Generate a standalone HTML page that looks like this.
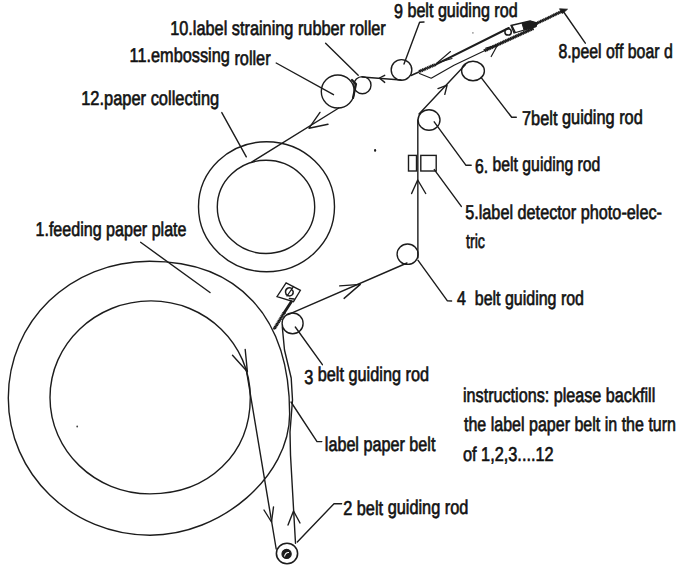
<!DOCTYPE html>
<html><head><meta charset="utf-8"><style>html,body{margin:0;padding:0;background:#fff;width:680px;height:570px;overflow:hidden}svg{display:block}</style></head>
<body><svg width="680" height="570" viewBox="0 0 680 570">
<rect width="680" height="570" fill="#fff"/>
<path d="M289.65 414.04 C289.65 476.07 221.50 535.20 150.00 535.20 C71.78 535.20 8.30 473.73 8.30 398.00 C8.30 321.39 70.43 261.20 149.50 261.20 C238.64 261.20 289.65 316.83 289.65 414.04 Z" stroke="#1c1c1c" stroke-width="1.4" fill="none"/>
<path d="M250.30 397.40 C250.30 453.85 208.68 493.90 150.00 493.90 C94.80 493.90 50.00 450.67 50.00 397.40 C50.00 344.13 95.25 300.90 151.00 300.90 C205.81 300.90 250.30 344.13 250.30 397.40 Z" stroke="#1c1c1c" stroke-width="1.4" fill="none"/>
<ellipse cx="266.5" cy="206.8" rx="68" ry="65" stroke="#1c1c1c" stroke-width="1.4" fill="none"/>
<ellipse cx="266" cy="206.9" rx="48.7" ry="46.6" stroke="#1c1c1c" stroke-width="1.4" fill="none"/>
<ellipse cx="337.8" cy="91.5" rx="16.5" ry="16.5" stroke="#1c1c1c" stroke-width="1.4" fill="none"/>
<ellipse cx="362.4" cy="85.2" rx="8.6" ry="8.6" stroke="#1c1c1c" stroke-width="1.4" fill="none"/>
<ellipse cx="401.5" cy="69.9" rx="10.3" ry="10.3" stroke="#1c1c1c" stroke-width="1.4" fill="none"/>
<ellipse cx="473" cy="71" rx="11.4" ry="9.7" stroke="#1c1c1c" stroke-width="1.4" fill="none"/>
<ellipse cx="429" cy="120" rx="11" ry="10.3" stroke="#1c1c1c" stroke-width="1.4" fill="none"/>
<ellipse cx="407.6" cy="254.2" rx="10.5" ry="10.2" stroke="#1c1c1c" stroke-width="1.4" fill="none"/>
<ellipse cx="292.6" cy="323.4" rx="10.5" ry="10.4" stroke="#1c1c1c" stroke-width="1.4" fill="none"/>
<ellipse cx="287" cy="553.5" rx="10.6" ry="10.2" stroke="#1c1c1c" stroke-width="1.6" fill="none"/>
<ellipse cx="286.6" cy="553.9" rx="4.6" ry="4.6" stroke="#1c1c1c" stroke-width="1.2" fill="#1c1c1c"/>
<path d="M284.5 556.5 Q285.5 552 289 552.5" stroke="#fff" stroke-width="1.1" fill="none"/>
<path d="M246.0 368.0 L276.2 549.0" stroke="#1c1c1c" stroke-width="1.4" fill="none" stroke-linejoin="round" stroke-linecap="round" />
<path d="M232.5 355.2 L247.4 371.8 L245.2 349.5" stroke="#1c1c1c" stroke-width="1.4" fill="none" stroke-linejoin="round" stroke-linecap="round" />
<path d="M264.0 510.0 L271.5 522.0 L273.5 507.0" stroke="#1c1c1c" stroke-width="1.4" fill="none" stroke-linejoin="round" stroke-linecap="round" />
<path d="M295.5 543.3 L290.5 455.0 L290.0 432.0 L292.5 400.0 L291.2 378.0 L284.5 350.0 L282.3 327.0" stroke="#1c1c1c" stroke-width="1.4" fill="none" stroke-linejoin="round" stroke-linecap="round" />
<path d="M288.0 525.0 L293.5 511.0 L300.0 523.0" stroke="#1c1c1c" stroke-width="1.4" fill="none" stroke-linejoin="round" stroke-linecap="round" />
<path d="M288.0 314.6 L407.0 263.0" stroke="#1c1c1c" stroke-width="1.4" fill="none" stroke-linejoin="round" stroke-linecap="round" />
<path d="M339.7 285.9 L360.3 284.4 L344.1 298.4" stroke="#1c1c1c" stroke-width="1.4" fill="none" stroke-linejoin="round" stroke-linecap="round" />
<path d="M417.9 258.0 L417.8 120.0" stroke="#1c1c1c" stroke-width="1.4" fill="none" stroke-linejoin="round" stroke-linecap="round" />
<path d="M411.6 193.5 L417.7 180.0 L425.7 193.5" stroke="#1c1c1c" stroke-width="1.4" fill="none" stroke-linejoin="round" stroke-linecap="round" />
<rect x="408.5" y="155.4" width="8" height="15.6" stroke="#1c1c1c" stroke-width="1.4" fill="none"/>
<rect x="420.8" y="155.4" width="15.4" height="15.6" stroke="#1c1c1c" stroke-width="1.4" fill="none"/>
<path d="M419.0 114.0 L465.5 64.5" stroke="#1c1c1c" stroke-width="1.4" fill="none" stroke-linejoin="round" stroke-linecap="round" />
<path d="M438.0 88.6 L447.1 85.2 L444.8 94.3" stroke="#1c1c1c" stroke-width="1.4" fill="none" stroke-linejoin="round" stroke-linecap="round" />
<path d="M411.0 75.5 L420.0 71.5" stroke="#1c1c1c" stroke-width="1.4" fill="none" stroke-linejoin="round" stroke-linecap="round" />
<path d="M420.0 71.2 L436.5 64.1" stroke="#1c1c1c" stroke-width="1.4" fill="none" stroke-linejoin="round" stroke-linecap="round" />
<path d="M418.82 69.97 L421.18 72.43 M420.47 69.26 L422.84 71.72 M422.12 68.54 L424.49 71.01 M423.78 67.83 L426.14 70.30 M425.43 67.12 L427.80 69.59 M427.08 66.41 L429.45 68.88 M428.74 65.70 L431.10 68.16 M430.39 64.99 L432.76 67.45 M432.04 64.28 L434.41 66.74 M433.70 63.56 L436.06 66.03 " stroke="#1c1c1c" stroke-width="1.2" fill="none"/>
<path d="M436.5 64.1 L508.8 28.0" stroke="#1c1c1c" stroke-width="2.1" fill="none" stroke-linejoin="round" stroke-linecap="round" />
<path d="M437.0 63.0 L450.5 51.5" stroke="#1c1c1c" stroke-width="1.1" fill="none" stroke-linejoin="round" stroke-linecap="round" />
<path d="M437.0 63.0 L452.0 58.5" stroke="#1c1c1c" stroke-width="1.1" fill="none" stroke-linejoin="round" stroke-linecap="round" />
<path d="M511 25.5 L530 21 L537 23 L536 26.5 L514 33 Z" stroke="#1c1c1c" stroke-width="1.3" fill="none"/>
<path d="M522 23.2 L530.5 21.3 L537 23.2 L536 26.6 L524 30 Z" fill="#1c1c1c" stroke="#1c1c1c" stroke-width="1"/>
<ellipse cx="508.1" cy="31.9" rx="3.2" ry="3.2" stroke="#1c1c1c" stroke-width="1.5" fill="none"/>
<path d="M512.0 26.0 L515.0 32.0" stroke="#1c1c1c" stroke-width="1.6" fill="none" stroke-linejoin="round" stroke-linecap="round" />
<path d="M536.5 23.5 L561.5 11.5" stroke="#1c1c1c" stroke-width="1.3" fill="none" stroke-linejoin="round" stroke-linecap="round" />
<path d="M535.31 22.41 L537.69 24.59 M536.93 21.63 L539.31 23.81 M538.56 20.85 L540.94 23.03 M540.18 20.07 L542.56 22.26 M541.80 19.29 L544.18 21.48 M543.42 18.51 L545.80 20.70 M545.05 17.73 L547.43 19.92 M546.67 16.95 L549.05 19.14 M548.29 16.18 L550.67 18.36 M549.91 15.40 L552.29 17.58 M551.54 14.62 L553.92 16.80 M553.16 13.84 L555.54 16.02 M554.78 13.06 L557.16 15.25 M556.41 12.28 L558.79 14.47 M558.03 11.50 L560.41 13.69 M559.65 10.72 L562.03 12.91 " stroke="#1c1c1c" stroke-width="1.4" fill="none"/>
<path d="M559.5 8.8 L567.5 9.2 L562.5 13.5 Z" fill="#1c1c1c" stroke="#1c1c1c" stroke-width="0.8"/>
<path d="M419.4 73.5 L431.2 78.2 L454.0 65.2 L485.0 50.5" stroke="#1c1c1c" stroke-width="1.2" fill="none" stroke-linejoin="round" stroke-linecap="round" />
<path d="M485.0 50.5 L533.0 28.5" stroke="#1c1c1c" stroke-width="1.4" fill="none" stroke-linejoin="round" stroke-linecap="round" />
<path d="M483.79 49.30 L486.21 51.70 M485.42 48.55 L487.85 50.95 M487.06 47.80 L489.48 50.20 M488.70 47.05 L491.12 49.45 M490.33 46.30 L492.76 48.70 M491.97 45.55 L494.39 47.95 M493.61 44.80 L496.03 47.20 M495.24 44.05 L497.67 46.45 M496.88 43.30 L499.30 45.70 M498.51 42.55 L500.94 44.95 M500.15 41.80 L502.58 44.20 M501.79 41.05 L504.21 43.45 M503.42 40.30 L505.85 42.70 M505.06 39.55 L507.48 41.95 M506.70 38.80 L509.12 41.20 M508.33 38.05 L510.76 40.45 M509.97 37.30 L512.39 39.70 M511.61 36.55 L514.03 38.95 M513.24 35.80 L515.67 38.20 M514.88 35.05 L517.30 37.45 M516.51 34.30 L518.94 36.70 M518.15 33.55 L520.57 35.95 M519.79 32.80 L522.21 35.20 M521.42 32.05 L523.85 34.46 M523.06 31.30 L525.48 33.71 M524.70 30.55 L527.12 32.96 M526.33 29.80 L528.76 32.21 M527.97 29.05 L530.39 31.46 M529.60 28.30 L532.03 30.71 M531.24 27.55 L533.67 29.96 " stroke="#1c1c1c" stroke-width="1.4" fill="none"/>
<path d="M485.9 48.1 L497.4 45.2 L491.2 56.5" stroke="#1c1c1c" stroke-width="1.2" fill="none" stroke-linejoin="round" stroke-linecap="round" />
<path d="M362.0 77.0 L401.0 80.0" stroke="#1c1c1c" stroke-width="1.4" fill="none" stroke-linejoin="round" stroke-linecap="round" />
<path d="M384.7 75.3 L379.4 78.0 L384.7 82.4" stroke="#1c1c1c" stroke-width="1.4" fill="none" stroke-linejoin="round" stroke-linecap="round" />
<path d="M352.0 80.0 L356.0 84.0 L353.0 98.0" stroke="#1c1c1c" stroke-width="2.2" fill="none" stroke-linejoin="round" stroke-linecap="round" />
<path d="M338.8 108.0 L252.0 161.8" stroke="#1c1c1c" stroke-width="1.4" fill="none" stroke-linejoin="round" stroke-linecap="round" />
<path d="M320.0 112.4 L309.0 128.2 L328.0 124.3" stroke="#1c1c1c" stroke-width="1.4" fill="none" stroke-linejoin="round" stroke-linecap="round" />
<path d="M140.6 242.3 L210.0 292.5" stroke="#1c1c1c" stroke-width="1.4" fill="none" stroke-linejoin="round" stroke-linecap="round" />
<path d="M221.8 112.6 L246.3 156.8" stroke="#1c1c1c" stroke-width="1.4" fill="none" stroke-linejoin="round" stroke-linecap="round" />
<path d="M276.2 63.0 L333.5 94.7" stroke="#1c1c1c" stroke-width="1.4" fill="none" stroke-linejoin="round" stroke-linecap="round" />
<path d="M325.6 43.2 L358.2 75.3" stroke="#1c1c1c" stroke-width="1.4" fill="none" stroke-linejoin="round" stroke-linecap="round" />
<path d="M404.0 64.0 L419.6 22.2 L424.0 22.0" stroke="#1c1c1c" stroke-width="1.4" fill="none" stroke-linejoin="round" stroke-linecap="round" />
<path d="M563.0 11.0 L585.3 43.2" stroke="#1c1c1c" stroke-width="1.4" fill="none" stroke-linejoin="round" stroke-linecap="round" />
<path d="M481.0 77.4 L511.7 117.3 L516.3 117.3" stroke="#1c1c1c" stroke-width="1.4" fill="none" stroke-linejoin="round" stroke-linecap="round" />
<path d="M434.2 121.8 L466.0 165.3 L471.2 165.3" stroke="#1c1c1c" stroke-width="1.4" fill="none" stroke-linejoin="round" stroke-linecap="round" />
<path d="M434.3 169.6 L461.3 206.4" stroke="#1c1c1c" stroke-width="1.4" fill="none" stroke-linejoin="round" stroke-linecap="round" />
<path d="M417.9 260.2 L447.4 300.9 L451.6 301.0" stroke="#1c1c1c" stroke-width="1.4" fill="none" stroke-linejoin="round" stroke-linecap="round" />
<path d="M295.3 327.0 L322.4 364.7" stroke="#1c1c1c" stroke-width="1.4" fill="none" stroke-linejoin="round" stroke-linecap="round" />
<path d="M291.0 402.0 L317.0 441.6 L321.8 441.6" stroke="#1c1c1c" stroke-width="1.4" fill="none" stroke-linejoin="round" stroke-linecap="round" />
<path d="M297.3 542.0 L334.0 503.7 L341.6 503.7" stroke="#1c1c1c" stroke-width="1.4" fill="none" stroke-linejoin="round" stroke-linecap="round" />
<path d="M286.1 282.9 L300.4 290.3 L293.5 301.7 L277 296.6 Z" stroke="#1c1c1c" stroke-width="1.3" fill="none"/>
<path d="M292.5 289 C290 286.5 285.5 288 285.5 292 C285.5 295.5 289.5 297 292 295 C294 293 293.5 290 291 289.5" stroke="#1c1c1c" stroke-width="1.5" fill="none"/>
<path d="M287.0 296.0 L293.5 286.5" stroke="#1c1c1c" stroke-width="1.3" fill="none" stroke-linejoin="round" stroke-linecap="round" />
<path d="M289.5 298.5 L294.0 299.0" stroke="#1c1c1c" stroke-width="1.6" fill="none" stroke-linejoin="round" stroke-linecap="round" />
<path d="M291.3 301.7 L284.0 313.0" stroke="#1c1c1c" stroke-width="2.8" fill="none" stroke-linejoin="round" stroke-linecap="round" />
<path d="M284.0 313.0 L274.1 329.1" stroke="#1c1c1c" stroke-width="1.4" fill="none" stroke-linejoin="round" stroke-linecap="round" />
<path d="M285.68 313.33 L282.32 312.67 M284.73 314.86 L281.38 314.21 M283.79 316.39 L280.44 315.74 M282.85 317.93 L279.49 317.27 M281.91 319.46 L278.55 318.81 M280.96 320.99 L277.61 320.34 M280.02 322.53 L276.67 321.87 M279.08 324.06 L275.72 323.41 M278.13 325.59 L274.78 324.94 M277.19 327.13 L273.84 326.47 M276.25 328.66 L272.89 328.01 " stroke="#1c1c1c" stroke-width="1.3" fill="none"/>
<ellipse cx="375.1" cy="150.4" rx="1.1" ry="1.3" fill="#1c1c1c"/>
<circle cx="77.2" cy="426.5" r="0.9" fill="#444"/>
<circle cx="472.9" cy="32.9" r="0.8" fill="#888"/>
<g font-family="Liberation Sans, sans-serif" font-size="20" fill="#111" stroke="#111" stroke-width="0.65" text-rendering="geometricPrecision">
<text x="170.2" y="34.75" textLength="215.61" lengthAdjust="spacingAndGlyphs" xml:space="preserve">10.label straining rubber roller</text>
<text x="394.0" y="16.5" textLength="123.61" lengthAdjust="spacingAndGlyphs" xml:space="preserve"><tspan dy='1.5'>9</tspan><tspan dy='-1.5'> belt guiding rod</tspan></text>
<text x="129.6" y="62.4" textLength="141.02" lengthAdjust="spacingAndGlyphs" xml:space="preserve">11.embossing<tspan dy='2.3'> roller</tspan></text>
<text x="558.4" y="58.0" textLength="114.4" lengthAdjust="spacingAndGlyphs" xml:space="preserve">8.peel off boar d</text>
<text x="81.2" y="104.7" textLength="138.0" lengthAdjust="spacingAndGlyphs" xml:space="preserve">12.paper collecting</text>
<text x="522.0" y="123.7" textLength="120.8" lengthAdjust="spacingAndGlyphs" xml:space="preserve"><tspan dy='1'>7belt</tspan><tspan dy='-1'> guiding rod</tspan></text>
<text x="475.0" y="171.2" textLength="125.39" lengthAdjust="spacingAndGlyphs" xml:space="preserve"><tspan dy='1.4'>6.</tspan><tspan dy='-1.4'> belt guiding rod</tspan></text>
<text x="465.2" y="218.8" textLength="196.8" lengthAdjust="spacingAndGlyphs" xml:space="preserve">5.label detector photo-elec-</text>
<text x="466.0" y="247.6" textLength="19.0" lengthAdjust="spacingAndGlyphs" xml:space="preserve">tric</text>
<text x="35.5" y="235.5" textLength="150.99" lengthAdjust="spacingAndGlyphs" xml:space="preserve">1.feeding paper plate</text>
<text x="457.0" y="305.3" textLength="126.99" lengthAdjust="spacingAndGlyphs" xml:space="preserve">4  belt guiding rod</text>
<text x="304.2" y="380.5" textLength="124.83" lengthAdjust="spacingAndGlyphs" xml:space="preserve"><tspan dy='3'>3</tspan><tspan dy='-2.3'> belt</tspan><tspan dy='-0.7'> guiding rod</tspan></text>
<text x="463.0" y="401.5" textLength="192.22" lengthAdjust="spacingAndGlyphs" xml:space="preserve">instructions: please backfill</text>
<text x="464.0" y="431.2" textLength="212.0" lengthAdjust="spacingAndGlyphs" xml:space="preserve">the label paper belt in the turn</text>
<text x="463.0" y="460.8" textLength="90.59" lengthAdjust="spacingAndGlyphs" xml:space="preserve">of 1,2,3....12</text>
<text x="324.8" y="451.3" textLength="110.59" lengthAdjust="spacingAndGlyphs" xml:space="preserve">label paper belt</text>
<text x="343.2" y="513.7" textLength="125.19" lengthAdjust="spacingAndGlyphs" xml:space="preserve"><tspan dy='1.5'>2 belt</tspan><tspan dy='-1.5'> guiding rod</tspan></text>
</g></svg></body></html>
